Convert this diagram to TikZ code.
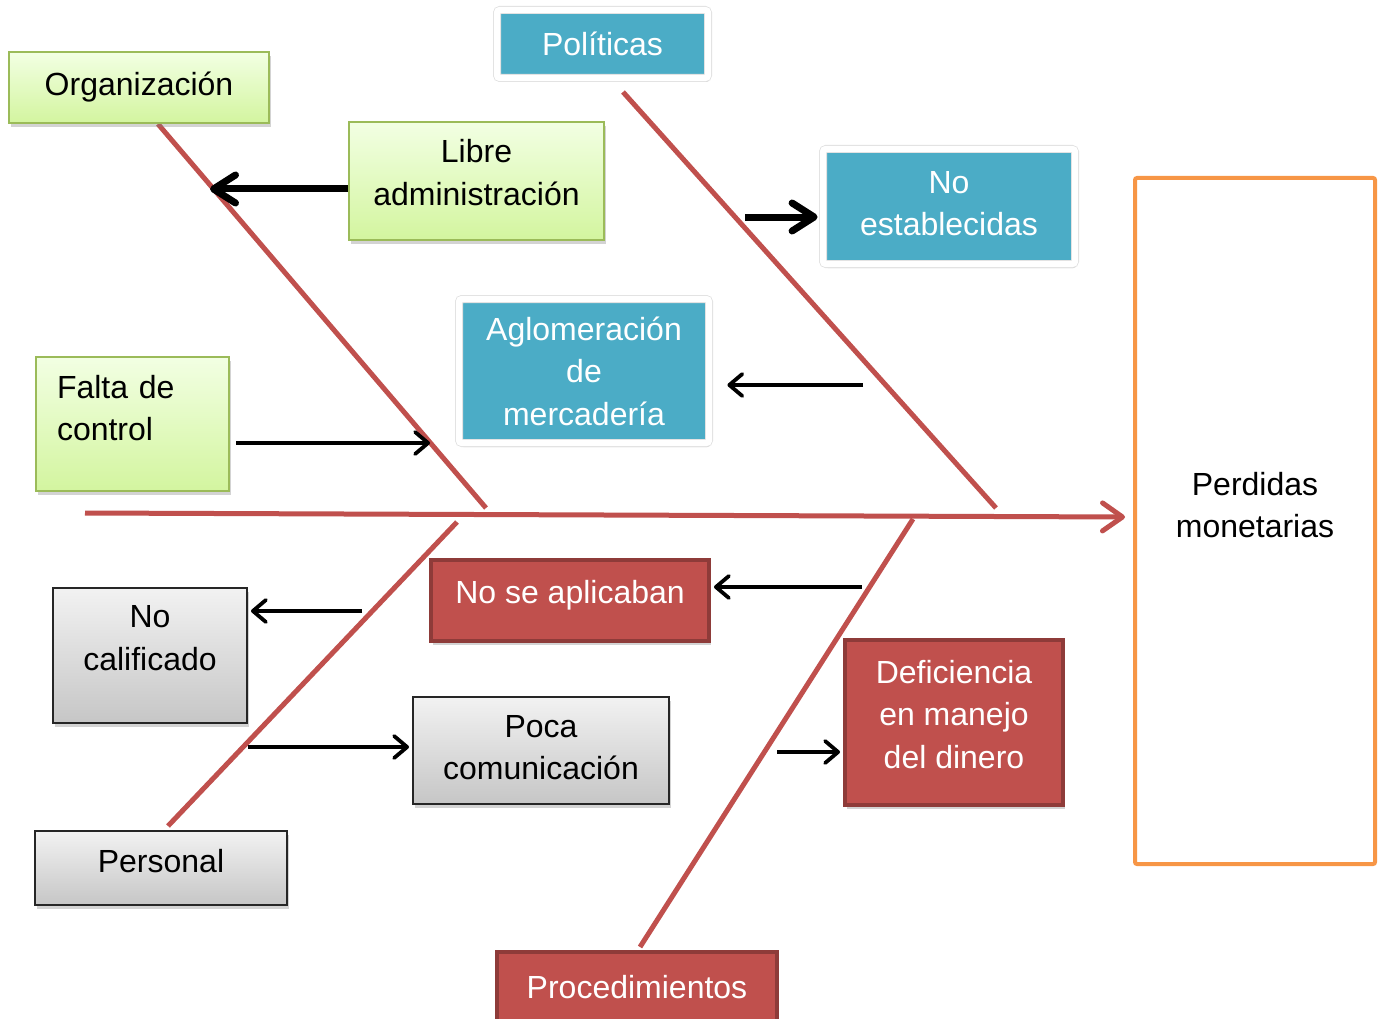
\documentclass[tikz,border=0pt]{standalone}
\usepackage{fontspec}
\setmainfont{Liberation Sans}
\usetikzlibrary{arrows.meta,shadows}
\definecolor{cbone}{HTML}{C0504D}
\definecolor{cgreenb}{HTML}{9BBB59}
\definecolor{cgreent}{HTML}{F2FFE3}
\definecolor{cgreenbot}{HTML}{D3F59F}
\definecolor{cblue}{HTML}{4BACC6}
\definecolor{cred}{HTML}{C0504D}
\definecolor{credb}{HTML}{8E3B39}
\definecolor{corange}{HTML}{F79646}
\definecolor{cgrayt}{HTML}{F2F2F2}
\definecolor{cgrayb}{HTML}{C6C6C6}
\tikzset{
  lbl/.style={font=\fontsize{32}{42.5}\selectfont, inner sep=0pt, align=center},
  shad/.style={drop shadow={opacity=0.35, shadow xshift=1.5pt, shadow yshift=-4pt}},
  greenbox/.style={lbl, shad, draw=cgreenb, line width=2pt, top color=cgreent, bottom color=cgreenbot},
  graybox/.style={lbl, shad, draw=black!85, line width=2pt, top color=cgrayt, bottom color=cgrayb},
  bluebox/.style={lbl, shad, fill=cblue, draw=black!12, double=white, double distance=6.4pt, line width=0.8pt, rounded corners=3pt, text=white},
  redbox/.style={lbl, shad, fill=cred, draw=credb, line width=4pt, text=white},
  orangebox/.style={lbl, draw=corange, line width=4pt, fill=white, rounded corners=2pt},
  bone/.style={draw=cbone, line width=5pt},
  thickarr/.style={draw=black, line width=7pt, -{Straight Barb[length=22pt,width=28pt,round]}},
  thinarr/.style={draw=black, line width=3.8pt, -{Straight Barb[length=13pt,width=22pt,round]}}
}
\begin{document}
\begin{tikzpicture}[x=1pt,y=-1pt]
\useasboundingbox (0,0) rectangle (1378,1019);

% coordinates of the bones
\coordinate (orgS) at (158,124);
\coordinate (orgE) at (486,508);
\coordinate (polS) at (623,92);
\coordinate (polE) at (996,508);
\coordinate (perS) at (168,826);
\coordinate (perE) at (457,522);
\coordinate (proS) at (640,947);
\coordinate (proE) at (913,519);
\coordinate (spS) at (85,513);
\coordinate (spE) at (1125,517);

% bones
\draw[bone] (orgS) -- (orgE);
\draw[bone] (polS) -- (polE);
\draw[bone] (perE) -- (perS);
\draw[bone] (proE) -- (proS);
\draw[bone, -{Straight Barb[length=20pt,width=28pt,round]}] (spS) -- (spE);

% nodes
\node[greenbox, minimum width=260pt, minimum height=71pt] (org) at (139,87.5) {Organización};
\node[greenbox, minimum width=255pt, minimum height=118pt, text depth=17pt] (libre) at (476.5,181) {Libre\\administración};
\node[greenbox, minimum width=193pt, minimum height=134pt, text width=151pt, align=left, text depth=75pt] (falta) at (132.5,424) {Falta de\\control};

\node[bluebox, minimum width=211pt, minimum height=68pt] (pol) at (602.5,44) {Políticas};
\node[bluebox, minimum width=252pt, minimum height=115pt, text depth=6pt] (noest) at (949,206.5) {No\\establecidas};
\node[bluebox, minimum width=250pt, minimum height=144pt] (aglo) at (584,371) {Aglomeración\\de\\mercadería};

\node[redbox, minimum width=278pt, minimum height=81pt, text depth=16.7pt] (noap) at (570,600.5) {No se aplicaban};
\node[redbox, minimum width=218pt, minimum height=165pt, text depth=17pt] (defi) at (954,722.5) {Deficiencia\\en manejo\\del dinero};
\node[redbox, minimum width=280pt, minimum height=70pt] (proc) at (637,987) {Procedimientos};

\node[graybox, minimum width=194pt, minimum height=135pt, text depth=35pt] (nocal) at (150,655.5) {No\\calificado};
\node[graybox, minimum width=256pt, minimum height=107pt, text depth=6pt] (poca) at (541,750.5) {Poca\\comunicación};
\node[graybox, minimum width=252pt, minimum height=74pt, text depth=14pt] (pers) at (161,868) {Personal};

\node[orangebox, minimum width=240pt, minimum height=686pt, text depth=32pt] (perd) at (1255,521) {Perdidas\\monetarias};

% arrow anchor points on the bones
\coordinate (t1) at (210,189);
\coordinate (t2) at (430,443);
\coordinate (s3) at (745,217);
\coordinate (s4) at (863,385);
\coordinate (s5) at (862,587);
\coordinate (s6) at (777,752);
\coordinate (s7) at (362,611);
\coordinate (s8) at (248,747);

% arrows
\draw[thickarr] (libre.west |- t1) -- (t1);
\draw[thinarr] ([xshift=6pt]falta.east |- t2) -- (t2);
\draw[thickarr] (s3) -- ([xshift=-5pt]noest.west |- s3);
\draw[thinarr] (s4) -- ([xshift=18pt]aglo.east |- s4);
\draw[thinarr] (s5) -- ([xshift=3pt]noap.east |- s5);
\draw[thinarr] (s6) -- ([xshift=-3pt]defi.west |- s6);
\draw[thinarr] (s7) -- ([xshift=3pt]nocal.east |- s7);
\draw[thinarr] (s8) -- ([xshift=-3pt]poca.west |- s8);
\end{tikzpicture}
\end{document}
